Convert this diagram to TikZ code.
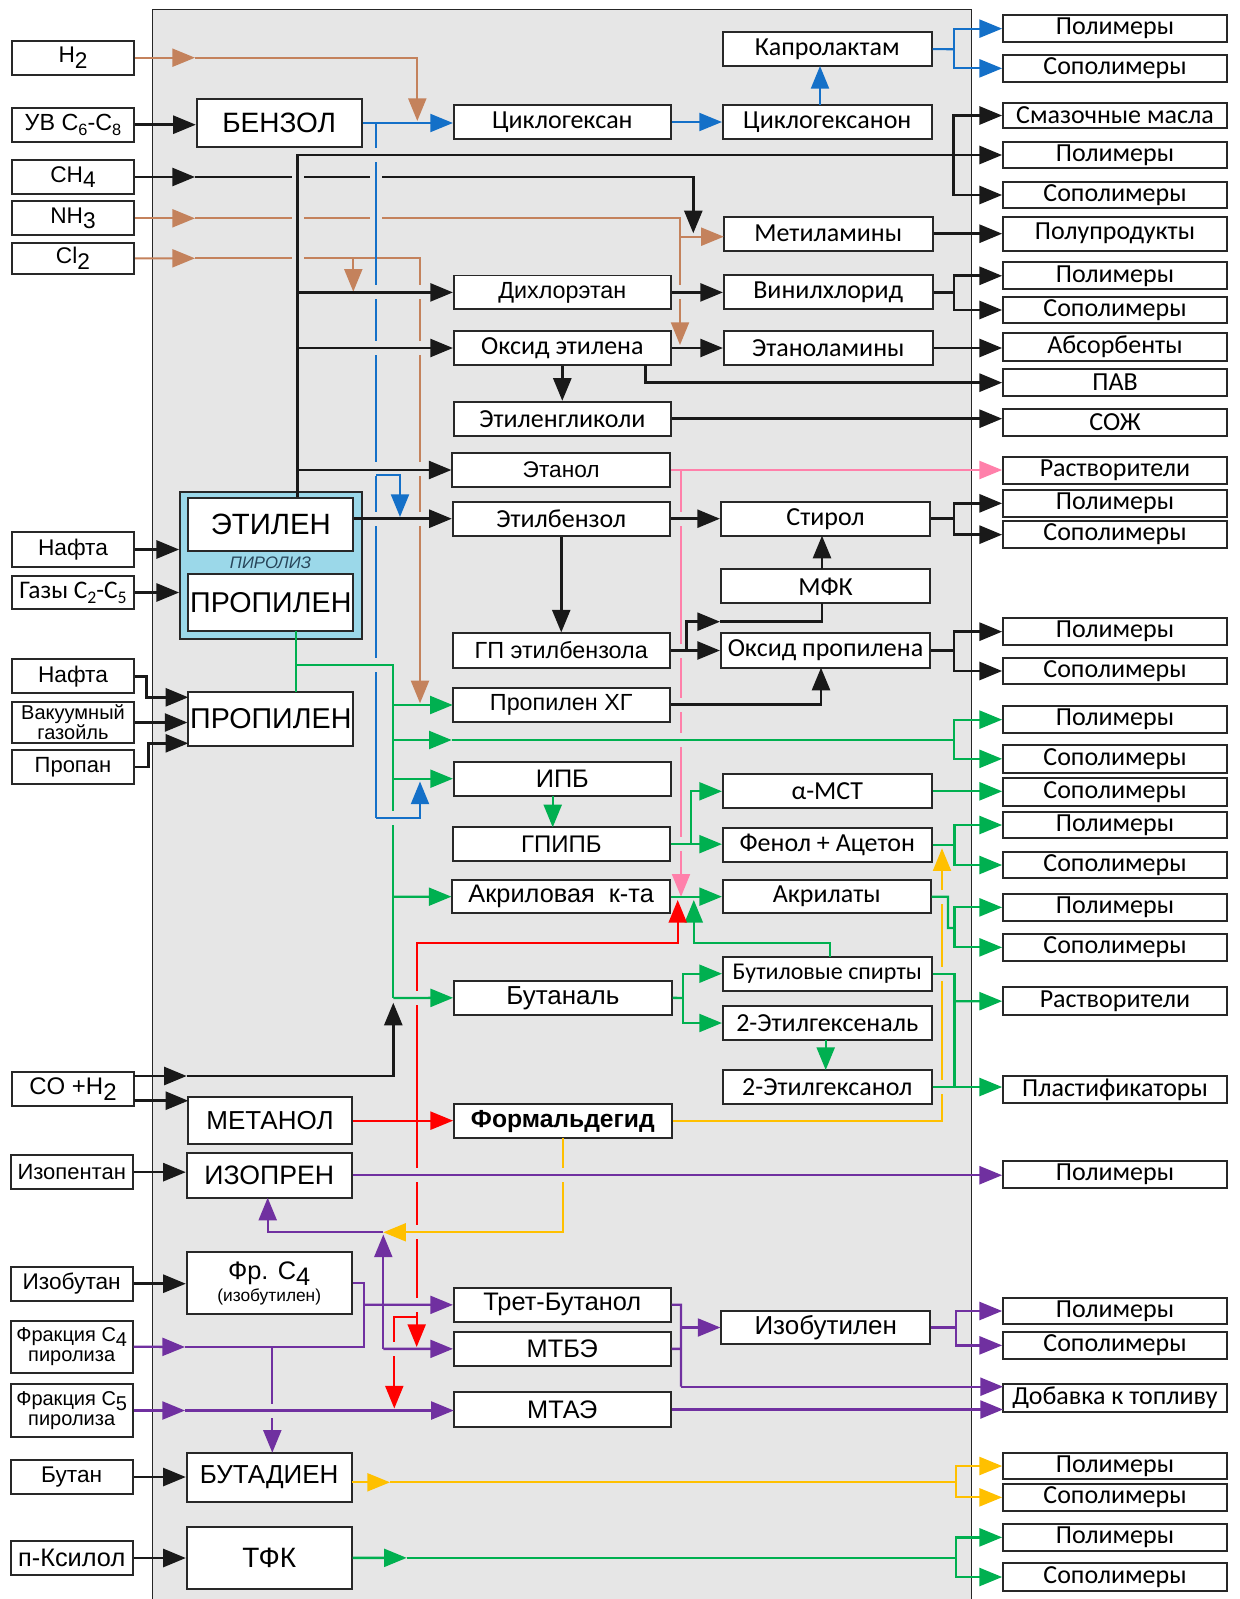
\documentclass[tikz,border=0pt]{standalone}
\usepackage{fontspec}
\usepackage{graphicx}
\setmainfont{Liberation Sans}
\newfontfamily\clb{Carlito}
\usetikzlibrary{arrows.meta}
\definecolor{bgc}{RGB}{230,230,230}
\definecolor{brn}{RGB}{196,130,92}
\definecolor{blu}{RGB}{20,112,200}
\definecolor{grn}{RGB}{0,176,80}
\definecolor{rdc}{RGB}{255,0,0}
\definecolor{pnk}{RGB}{255,128,170}
\definecolor{ylw}{RGB}{255,192,0}
\definecolor{prp}{RGB}{112,48,160}
\definecolor{cyn}{RGB}{155,216,233}
\definecolor{bord}{RGB}{40,40,40}
\definecolor{pirc}{RGB}{40,70,90}
\newcommand\dn[1]{\raisebox{-0.25em}{#1}}
\newcommand\sbs[1]{\raisebox{-0.2em}{\scalebox{0.7}{#1}}}
\newcommand\bx[7]{\node[box,#6,minimum width={((#4)-(#2))*0.75pt},minimum height={((#5)-(#3))*0.75pt}] (#1) at ({((#2)+(#4))/2},{((#3)+(#5))/2}) {#7};}
\newcommand\rb[4]{\bx{#1}{1003}{#2}{1227}{#3}{fc}{#4}}
\newcommand\gv[2]{\fill[bgc] ({(#1)-4},{(#2)-7}) rectangle ({(#1)+4},{(#2)+7});}
\newcommand\gh[2]{\fill[bgc] ({(#1)-6},{(#2)-4}) rectangle ({(#1)+6},{(#2)+4});}
\tikzset{
 box/.style={draw=bord,line width=1.3pt,fill=white,inner sep=0pt,align=center,text=black},
 fa/.style={font=\fontsize{17}{18}\selectfont},
 fc/.style={font=\fontsize{19.5}{20}\clb},
 ar/.style={-{Triangle[length=17pt,width=13.5pt]}},
 bk/.style={draw=black!90,line width=2pt},
 bl/.style={draw=blu,line width=1.6pt},
 br/.style={draw=brn,line width=1.6pt},
 gr/.style={draw=grn,line width=1.7pt},
 rdl/.style={draw=rdc,line width=1.6pt},
 pk/.style={draw=pnk,line width=1.5pt},
 yl/.style={draw=ylw,line width=1.5pt},
 pu/.style={draw=prp,line width=1.7pt},
}
\begin{document}
\begin{tikzpicture}[x=0.75pt,y=-0.75pt]
\useasboundingbox (0,0) rectangle (1239,1599);
\fill[white] (0,0) rectangle (1239,1599);
\draw[fill=bgc,draw=black!85,line width=0.8pt] (152.7,9.3) rectangle (971.5,1610);

% ---------- left inputs
\bx{inH2}{11.7}{40.7}{134.3}{74.7}{fa}{H\dn{2}}
\bx{inUV}{11.7}{107.7}{134.3}{141.7}{font=\fontsize{17.5}{18}\selectfont}{УВ C\sbs{6}-C\sbs{8}}
\bx{inCH4}{11.7}{160}{134.3}{194}{fa}{CH\dn{4}}
\bx{inNH3}{11.7}{201.3}{134.3}{235.3}{fa}{NH\dn{3}}
\bx{inCl2}{11.7}{242.7}{134.3}{274}{fa}{Cl\dn{2}}
\bx{inNafta1}{11.7}{532.3}{134.3}{566.7}{fa}{Нафта}
\bx{inGas}{11.7}{575.7}{134.3}{609.3}{font=\fontsize{19}{20}\clb}{Газы C\sbs{2}-C\sbs{5}}
\bx{inNafta2}{11.7}{659.3}{134.3}{693.3}{fa}{Нафта}
\bx{inVac}{11.7}{701.7}{134.3}{743.3}{font=\fontsize{15}{13.5}\selectfont}{Вакуумный\\газойль}
\bx{inPropan}{11.7}{750}{134.3}{784}{font=\fontsize{16.5}{17}\selectfont}{Пропан}
\bx{inCO}{11.7}{1071.7}{134.3}{1105.7}{font=\fontsize{18}{19}\selectfont}{CO +H\dn{2}}
\bx{inIsopentan}{10.7}{1155}{132.7}{1189.3}{font=\fontsize{16.5}{17}\selectfont}{Изопентан}
\bx{inIsobutan}{10.7}{1266.7}{132.7}{1300.7}{fa}{Изобутан}
\bx{inFrC4}{10.7}{1320.7}{132.7}{1372.7}{font=\fontsize{15}{15}\selectfont}{Фракция C\dn{4}\\пиролиза}
\bx{inFrC5}{10.7}{1384.3}{132.7}{1436.7}{font=\fontsize{15}{15}\selectfont}{Фракция C\dn{5}\\пиролиза}
\bx{inButan}{10.7}{1460}{132.7}{1494}{fa}{Бутан}
\bx{inXylol}{10.7}{1541}{132.7}{1575}{font=\fontsize{19}{20}\selectfont}{п-Ксилол}

% ---------- main column
\bx{benzol}{196.7}{99}{361.7}{147}{font=\fontsize{21}{22}\selectfont}{БЕНЗОЛ}
\bx{pyro}{180}{491.7}{361.7}{639.3}{fill=cyn}{}
\bx{ethylene}{188.3}{498.3}{353.3}{551}{font=\fontsize{22}{23}\selectfont}{ЭТИЛЕН}
\bx{propyP}{188.3}{574}{353.3}{630.7}{font=\fontsize{21.5}{23}\selectfont}{ПРОПИЛЕН}
\node[font=\fontsize{12.5}{13}\selectfont\itshape,text=pirc] (pirtxt) at (270.5,562.7) {ПИРОЛИЗ};
\bx{propy2}{188.3}{691.7}{353.3}{745.7}{font=\fontsize{21.5}{23}\selectfont}{ПРОПИЛЕН}
\bx{methanol}{188.3}{1097.3}{351.7}{1144}{font=\fontsize{19.5}{20}\selectfont}{МЕТАНОЛ}
\bx{isoprene}{186.7}{1152.7}{351.7}{1197.7}{font=\fontsize{20}{21}\selectfont}{ИЗОПРЕН}
\bx{frc4}{186.7}{1252.3}{351.7}{1314.3}{font=\fontsize{19}{18}\selectfont}{Фр. C\dn{4}\\[-1pt]{\fontsize{13}{14}\selectfont (изобутилен)}}
\bx{butadiene}{186.7}{1452.7}{351.7}{1502.3}{font=\fontsize{19.5}{20}\selectfont}{БУТАДИЕН}
\bx{tfk}{186.7}{1526.7}{351.7}{1589}{font=\fontsize{21}{22}\selectfont}{ТФК}

% ---------- middle column
\bx{cyclohexane}{453.8}{105}{670.8}{139}{fc}{Циклогексан}
\bx{dichloro}{453.8}{275.5}{670.8}{309.3}{font=\fontsize{17.5}{18}\selectfont}{Дихлорэтан}
\bx{oxeth}{453.8}{331}{670.8}{365}{fc}{Оксид этилена}
\bx{glycol}{453.8}{401.7}{670.8}{435.7}{fc}{Этиленгликоли}
\bx{ethanol}{452.3}{452.7}{670}{487.3}{fa}{Этанол}
\bx{ethbenz}{452.7}{501.7}{669.8}{535.7}{fc}{Этилбензол}
\bx{gpeb}{452.7}{633.3}{669.8}{667.7}{font=\fontsize{17.5}{18}\selectfont}{ГП этилбензола}
\bx{propxg}{452.7}{687.7}{669.8}{721.7}{font=\fontsize{17.5}{18}\selectfont}{Пропилен ХГ}
\bx{ipb}{453.8}{761.7}{670.8}{795.7}{font=\fontsize{19}{20}\selectfont}{ИПБ}
\bx{gpipb}{452.7}{827.3}{669.8}{861}{font=\fontsize{18}{19}\selectfont}{ГПИПБ}
\bx{acryl}{452.3}{880}{670}{913.3}{font=\fontsize{19}{20}\selectfont}{Акриловая\ \ к-та}
\bx{butanal}{454}{980.7}{671.7}{1015}{font=\fontsize{19.5}{20}\selectfont}{Бутаналь}
\bx{formald}{454}{1104.3}{671.7}{1138.3}{font=\fontsize{18.5}{19}\selectfont\bfseries}{Формальдегид}
\bx{tbutanol}{453.8}{1288}{670.8}{1321.7}{font=\fontsize{19}{20}\selectfont}{Трет-Бутанол}
\bx{mtbe}{453.8}{1331.7}{670.8}{1366}{font=\fontsize{19}{20}\selectfont}{МТБЭ}
\bx{mtae}{453.8}{1392.3}{670.8}{1426.7}{font=\fontsize{19}{20}\selectfont}{МТАЭ}

% ---------- second middle column
\bx{caprolactam}{722.8}{32.3}{931.7}{66}{fc}{Капролактам}
\bx{cyclohexanone}{722.8}{105}{931.7}{139}{fc}{Циклогексанон}
\bx{methylamines}{723.8}{216.7}{932.7}{250.7}{fc}{Метиламины}
\bx{vinylchl}{723.8}{275.3}{932.7}{309.3}{fc}{Винилхлорид}
\bx{ethanolam}{723.8}{331}{932.7}{365}{fc}{Этаноламины}
\bx{styrene}{720.8}{501.7}{930.2}{535.7}{fc}{Стирол}
\bx{mfk}{720.8}{569.3}{930.2}{603.3}{fc}{МФК}
\bx{oxprop}{720.8}{633.3}{930.2}{667.7}{fc}{Оксид пропилена}
\bx{amst}{722.8}{774.3}{931.7}{808.3}{fc}{α-МСТ}
\bx{phenol}{722.8}{828.3}{931.7}{862.3}{fc}{Фенол + Ацетон}
\bx{acrylates}{722.8}{880}{930.7}{913.3}{fc}{Акрилаты}
\bx{butanols}{722.8}{956.7}{931.7}{990.7}{font=\fontsize{18}{19}\clb}{Бутиловые спирты}
\bx{ehexenal}{722.8}{1006}{931.7}{1040}{fc}{2-Этилгексеналь}
\bx{ehexanol}{722.8}{1070}{931.7}{1104}{fc}{2-Этилгексанол}
\bx{isobutylene}{721.3}{1310.7}{930.2}{1344.3}{font=\fontsize{19.5}{20}\selectfont}{Изобутилен}

% ---------- right column
\rb{r1}{15}{42.3}{Полимеры}
\rb{r2}{55}{81.7}{Сополимеры}
\rb{r3}{102.7}{128.3}{Смазочные масла}
\rb{r4}{141.7}{168.3}{Полимеры}
\rb{r5}{181.7}{208.3}{Сополимеры}
\rb{r6}{216.7}{250.7}{Полупродукты}
\rb{r7}{262.3}{289.3}{Полимеры}
\rb{r8}{296.7}{323.3}{Сополимеры}
\rb{r9}{333.3}{360.7}{Абсорбенты}
\rb{r10}{369.3}{396}{ПАВ}
\rb{r11}{409}{436}{СОЖ}
\rb{r12}{456.7}{484.3}{Растворители}
\rb{r13}{490}{516.7}{Полимеры}
\rb{r14}{521}{548.3}{Сополимеры}
\rb{r15}{618.3}{645}{Полимеры}
\rb{r16}{657.7}{684.3}{Сополимеры}
\rb{r17}{706}{733.3}{Полимеры}
\rb{r18}{745}{772.7}{Сополимеры}
\rb{r19}{778.3}{805.7}{Сополимеры}
\rb{r20}{811.7}{838.3}{Полимеры}
\rb{r21}{851.7}{878.3}{Сополимеры}
\rb{r22}{894}{920.7}{Полимеры}
\rb{r23}{934}{960.7}{Сополимеры}
\rb{r24}{987.3}{1015}{Растворители}
\rb{r25}{1076}{1103.3}{Пластификаторы}
\rb{r26}{1160.7}{1188.3}{Полимеры}
\rb{r27}{1297.7}{1324.3}{Полимеры}
\rb{r28}{1331.7}{1359}{Сополимеры}
\rb{r29}{1384}{1411.7}{Добавка к топливу}
\rb{r30}{1452.7}{1479.3}{Полимеры}
\rb{r31}{1484}{1510.7}{Сополимеры}
\rb{r32}{1524}{1550.7}{Полимеры}
\rb{r33}{1563.3}{1590.7}{Сополимеры}

% ================= connectors =================
% --- step 1: inputs H2, CH4, NH3, Cl2
\coordinate (h2a) at (195,57.7);
\draw[br,ar] (inH2.east) -- (h2a);
\draw[br,ar] (h2a) -- (417.3,57.7) -- (417.3,121);
\draw[bk,ar] (inUV.east) -- (benzol.west |- inUV.east);
\coordinate (ch4a) at (195,177);
\draw[bk,ar] (inCH4.east) -- (ch4a);
\draw[bk,ar] (ch4a) -- (693.3,177) -- (693.3,233.3);
\coordinate (nh3a) at (195,218.3);
\draw[br,ar] (inNH3.east) -- (nh3a);
\draw[br,ar] (nh3a) -- (680,218.3) -- (680,345);
\draw[br,ar] (680,236.7) -- (723.8,236.7);
\coordinate (cl2a) at (195,258.3);
\draw[br,ar] (inCl2.east) -- (cl2a);
\draw[br,ar] (cl2a) -- (420,258.3) -- (420,703.3);
\draw[br,ar] (353.3,258.3) -- (353.3,291.7);
% gaps
\gh{297.7}{177}\gh{376}{177}\gh{297.7}{218.3}\gh{376}{218.3}\gh{297.7}{258.3}
\gv{420}{292.4}\gv{420}{348}\gv{420}{469}\gv{420}{518.7}\gv{680}{292.4}

% --- blue
\draw[bl,ar] (benzol.east) -- (cyclohexane.west |- benzol.east);
\draw[bl] (376,123) -- (376,818.3);
\gv{376}{155}\gv{376}{292.4}\gv{376}{348}\gv{376}{468.5}\gv{376}{518.7}\gv{376}{665}
\draw[bl,ar] (376,475) -- (400,475) -- (400,517);
\draw[bl,ar] (cyclohexane.east) -- (cyclohexanone.west);
\draw[bl,ar] (820,105) -- (820,66);
\coordinate (cpb) at (953.6,49.2);
\draw[bl] (caprolactam.east) -- (cpb);
\draw[bl,ar] (cpb) |- (r1.west);
\draw[bl,ar] (cpb) |- (r2.west);

% --- pink
\draw[pk,ar] (ethanol.east) -- (r12.west |- ethanol.east);
\draw[pk,ar] (681,470) -- (681,896.7);
\gv{681}{518.7}\gv{681}{650.5}\gv{681}{705}\gv{681}{740}\gv{681}{844.2}

% --- black
\coordinate (tr) at (297.7,155);
\coordinate (trb) at (953.6,155);
\draw[bk] (tr |- ethylene.north) -- (tr) -- (trb);
\draw[bk,ar] (trb) -- (r4.west);
\draw[bk,ar] (trb) |- (r3.west);
\draw[bk,ar] (trb) |- (r5.west);
\draw[bk,ar] (tr |- dichloro.west) -- (dichloro.west);
\draw[bk,ar] (tr |- oxeth.west) -- (oxeth.west);
\draw[bk,ar] (tr |- ethanol.west) -- (ethanol.west);
\draw[bk,ar] (ethylene.east |- ethbenz.west) -- (ethbenz.west);
\draw[bk,ar] (dichloro.east) -- (vinylchl.west |- dichloro.east);
\coordinate (vcb) at (954,292.3);
\draw[bk] (vinylchl.east) -- (vcb);
\draw[bk,ar] (vcb) |- (r7.west);
\draw[bk,ar] (vcb) |- (r8.west);
\draw[bk,ar] (methylamines.east) -- (r6.west |- methylamines.east);
\draw[bk,ar] (oxeth.east) -- (ethanolam.west |- oxeth.east);
\draw[bk,ar] (ethanolam.east) -- (r9.west |- ethanolam.east);
\draw[bk,ar] (645.7,365) |- (r10.west);
\draw[bk,ar] (oxeth.south) -- (glycol.north);
\draw[bk,ar] (glycol.east) -- (r11.west |- glycol.east);
\draw[bk,ar] (ethbenz.east) -- (styrene.west |- ethbenz.east);
\coordinate (stb) at (954,518.7);
\draw[bk] (styrene.east) -- (stb);
\draw[bk,ar] (stb) |- (r13.west);
\draw[bk,ar] (stb) |- (r14.west);
\draw[bk,ar] (ethbenz.south) -- (gpeb.north);
\draw[bk,ar] (gpeb.east) -- (686.7,650.5) -- (686.7,621.7) -- (720,621.7);
\draw[bk] (720,621.7) -- (822,621.7) -- (822,603.3);
\draw[bk,ar] (gpeb.east) -- (oxprop.west |- gpeb.east);
\draw[bk,ar] (822,569.3) -- (822,535.7);
\draw[bk,ar] (propxg.east) -- (821,704.7) -- (821,667.7);
\coordinate (opb) at (954,650.5);
\draw[bk] (oxprop.east) -- (opb);
\draw[bk,ar] (opb) |- (r15.west);
\draw[bk,ar] (opb) |- (r16.west);
\draw[bk,ar] (inNafta1.east) -- (pyro.west |- inNafta1.east);
\draw[bk,ar] (inGas.east) -- (pyro.west |- inGas.east);
\draw[bk,ar] (inNafta2.east) -- (146.7,676.3) -- (146.7,697.3) -- (188.3,697.3);
\draw[bk,ar] (inVac.east) -- (propy2.west |- inVac.east);
\draw[bk,ar] (inPropan.east) -- (148.3,767) -- (148.3,743.3) -- (188.3,743.3);
\coordinate (coa) at (186.7,1076);
\draw[bk,ar] (134.3,1076) -- (coa);
\draw[bk,ar] (coa) -- (393.3,1076) -- (393.3,1002.7);
\draw[bk,ar] (134.3,1100.7) -- (188.3,1100.7);
\draw[bk,ar] (inIsopentan.east) -- (isoprene.west |- inIsopentan.east);
\draw[bk,ar] (inIsobutan.east) -- (frc4.west |- inIsobutan.east);
\draw[bk,ar] (inButan.east) -- (butadiene.west |- inButan.east);
\draw[bk,ar] (inXylol.east) -- (tfk.west |- inXylol.east);

% --- green (part 1)
\draw[gr] (296,630.7) -- (296,691.7);
\draw[gr] (296,665) -- (393.3,665) -- (393.3,997.9);
\draw[gr,ar] (393.3,705) -- (452.7,705);
\coordinate (gla) at (451.7,740);
\draw[gr,ar] (393.3,740) -- (gla);
\coordinate (glb) at (954,740);
\draw[gr] (gla) -- (glb);
\draw[gr,ar] (glb) |- (r17.west);
\draw[gr,ar] (glb) |- (r18.west);
\draw[gr,ar] (393.3,778.7) -- (ipb.west);
\draw[gr,ar] (393.3,896.7) -- (acryl.west);
\gv{393.3}{818.3}
\draw[bl,ar] (376,818.3) -- (420,818.3) -- (420,781.5);
\draw[gr,ar] (552.7,795.7) -- (552.7,827.3);
\draw[gr,ar] (gpipb.east) -- (phenol.west |- gpipb.east);
\draw[gr,ar] (691.2,844.2) |- (amst.west);
\draw[gr,ar] (amst.east) -- (r19.west |- amst.east);
\coordinate (phb) at (954.6,845.3);
\draw[gr] (phenol.east) -- (phb);
\draw[gr,ar] (phb) |- (r20.west);
\draw[gr,ar] (phb) |- (r21.west);
\draw[gr,ar] (acryl.east) -- (acrylates.west |- acryl.east);
\coordinate (bnb) at (683.3,997.9);
\draw[gr] (butanal.east) -- (bnb);
\draw[gr,ar] (bnb) |- (butanols.west);
\draw[gr,ar] (bnb) |- (ehexenal.west);
\draw[gr,ar] (829.8,956.7) -- (829.8,943.3) -- (693.8,943.3) -- (693.8,900);
\draw[gr,ar] (825.7,1040) -- (825.7,1070);

% --- red
\draw[rdl,ar] (methanol.east) -- (formald.west |- methanol.east);
\draw[rdl,ar] (416.7,1120.7) -- (416.7,943.3) -- (677.7,943.3) -- (677.7,900);
\draw[rdl,ar] (416.7,1120.7) -- (416.7,1347);
\draw[rdl,ar] (416.7,1316.7) -- (394.3,1316.7) -- (394.3,1408.5);
\gv{416.7}{997.9}\gv{416.7}{1175}\gv{416.7}{1232.3}\gv{416.7}{1305}\gv{394.3}{1349}

% --- yellow
\draw[yl,ar] (formald.east) -- (942,1121.3) -- (942,848.3);
\draw[yl,ar] (563.3,1138.3) -- (563.3,1232.3) -- (383.3,1232.3);
\gv{942}{896.7}\gv{942}{973.7}\gv{942}{1087}\gv{563.3}{1175}

% --- green (part 2)
\draw[gr,ar] (393.3,997.9) -- (butanal.west);
\draw[gr] (acrylates.east) -- (948,896.7) -- (948,928) -- (954.6,928);
\draw[gr,ar] (954.6,928) |- (r22.west);
\draw[gr,ar] (954.6,928) |- (r23.west);
\draw[gr] (butanols.east) -- (954.6,973.7) -- (954.6,1087);
\draw[gr,ar] (954.6,1001.2) -- (r24.west);
\draw[gr,ar] (ehexanol.east) -- (r25.west |- ehexanol.east);
\coordinate (tfa) at (406.7,1557.85);
\coordinate (tfb) at (955.7,1557.85);
\draw[gr,ar] (tfk.east) -- (tfa);
\draw[gr] (tfa) -- (tfb);
\draw[gr,ar] (tfb) |- (r32.west);
\draw[gr,ar] (tfb) |- (r33.west);

% --- yellow butadiene
\coordinate (bda) at (390,1482.3);
\coordinate (bdb) at (955.7,1482.3);
\draw[yl,ar] (351.7,1482.3) -- (bda);
\draw[yl] (bda) -- (bdb);
\draw[yl,ar] (bdb) |- (r30.west);
\draw[yl,ar] (bdb) |- (r31.west);

% --- purple
\draw[pu,ar] (isoprene.east) -- (r26.west |- isoprene.east);
\draw[pu,ar] (383.3,1232.3) -- (267.7,1232.3) -- (267.7,1197.7);
\coordinate (fca) at (185,1347);
\draw[pu,ar] (inFrC4.east) -- (fca);
\draw[pu] (fca) -- (364.3,1347) -- (364.3,1283.3) -- (frc4.east);
\draw[pu,ar] (364.3,1304.85) -- (tbutanol.west);
\draw[pu,ar] (272.3,1347) -- (272.3,1452.7);
\gv{272.3}{1410.5}
\coordinate (fcb) at (185,1410.5);
\draw[pu,ar] (inFrC5.east) -- (fcb);
\draw[pu,ar] (fcb) -- (453.8,1410.5);
\draw[pu,ar] (383.3,1348.85) -- (383.3,1234.5);
\draw[pu,ar] (383.3,1348.85) -- (mtbe.west);
\draw[pu] (tbutanol.east) -- (681,1304.85) -- (681,1386.7);
\draw[pu] (mtbe.east) -- (681,1348.85);
\draw[pu,ar] (681,1386.7) -- (1003,1386.7);
\draw[pu,ar] (681,1327.5) -- (isobutylene.west);
\coordinate (ibb) at (955.7,1327.5);
\draw[pu] (isobutylene.east) -- (ibb);
\draw[pu,ar] (ibb) |- (r27.west);
\draw[pu,ar] (ibb) |- (r28.west);
\draw[pu,ar] (mtae.east) -- (1003,1409.5);
\end{tikzpicture}
\end{document}
